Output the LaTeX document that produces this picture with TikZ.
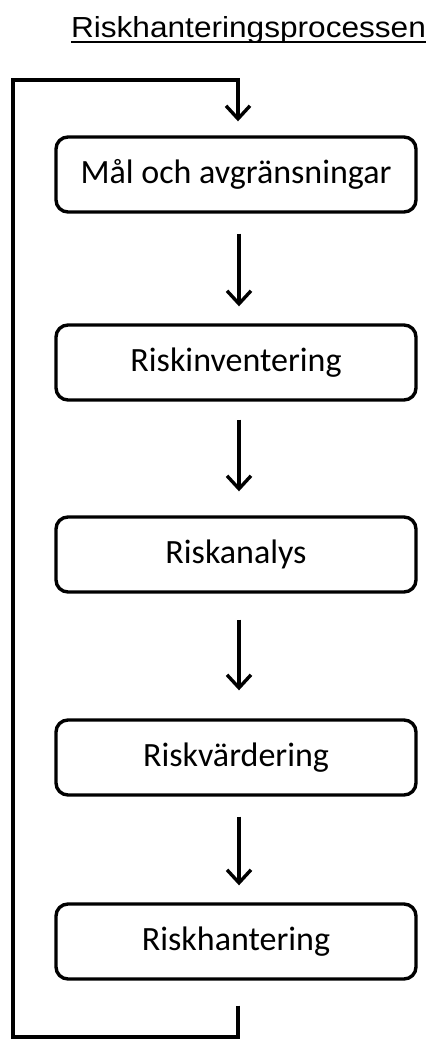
\documentclass[tikz,border=0pt]{standalone}
\usepackage{fontspec}
\setmainfont{Carlito}
\newfontfamily\titlefont{Liberation Sans}
\usetikzlibrary{arrows.meta}
\begin{document}
\begin{tikzpicture}[x=1pt,y=-1pt,
  stepbox/.style={draw, line width=3.4pt, rounded corners=12pt,
    minimum width=360pt, minimum height=75pt, inner sep=0pt,
    font=\fontsize{34}{40}\selectfont},
  flow/.style={line width=3.4pt, line join=miter,
    -{Straight Barb[length=13pt,width=24pt,line width=3.4pt]}}]
\useasboundingbox (0,0) rectangle (432,1039);

% heading with a drawn underline
\node[anchor=base, xscale=1.09, inner sep=0pt, font=\titlefont\fontsize{29}{34}\selectfont]
  (title) at (248.5,37) {Riskhanteringsprocessen};
\draw[line width=2.2pt] ([yshift=-5pt]title.base west) -- ([yshift=-5pt]title.base east);

% process steps
\node[stepbox] (b1) at (236,174.5) {Mål och avgränsningar};
\node[stepbox] (b2) at (236,362.5) {Riskinventering};
\node[stepbox] (b3) at (236,554.5) {Riskanalys};
\node[stepbox] (b4) at (236,757.5) {Riskvärdering};
\node[stepbox] (b5) at (236,941.5) {Riskhantering};

% arrows between steps
\draw[flow] ([xshift=3pt,yshift=-20pt]b1.south) -- ([xshift=3pt,yshift=17pt]b2.north);
\draw[flow] ([xshift=3pt,yshift=-18pt]b2.south) -- ([xshift=3pt,yshift=24pt]b3.north);
\draw[flow] ([xshift=3pt,yshift=-26pt]b3.south) -- ([xshift=3pt,yshift=28pt]b4.north);
\draw[flow] ([xshift=3pt,yshift=-20pt]b4.south) -- ([xshift=3pt,yshift=17pt]b5.north);

% feedback loop back to the first step
\coordinate (fbstart) at ([xshift=2pt,yshift=-25pt]b5.south);
\coordinate (fbleft) at (13,1037);
\coordinate (fbtop) at (13,80);
\draw[flow] (fbstart) |- (fbleft) -- (fbtop) -| ([xshift=2pt,yshift=14pt]b1.north);
\end{tikzpicture}
\end{document}
